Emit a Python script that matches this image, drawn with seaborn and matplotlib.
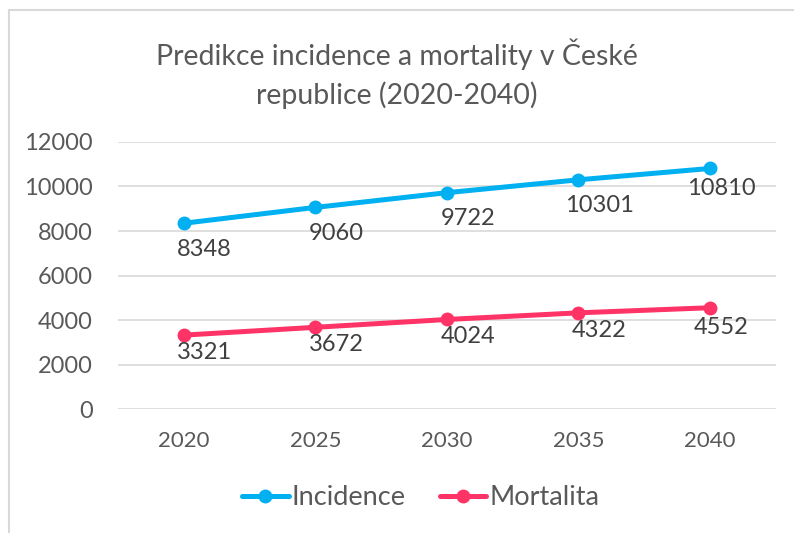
import pandas as pd
import matplotlib.pyplot as plt
import seaborn as sns
from matplotlib.lines import Line2D

# data
years = ["2020", "2025", "2030", "2035", "2040"]
incidence = [8348, 9060, 9722, 10301, 10810]
mortalita = [3321, 3672, 4024, 4322, 4552]

df = pd.DataFrame({"Rok": years, "Incidence": incidence, "Mortalita": mortalita})
df = df.melt(id_vars="Rok", var_name="serie", value_name="pocet")

sns.set_style("white")
plt.rcParams["font.family"] = ["Lato", "DejaVu Sans"]
text_col = "#595959"
grid_col = "#D9D9D9"
colors = {"Incidence": "#00B0F0", "Mortalita": "#FF3366"}

fig = plt.figure(figsize=(7.94, 5.33), dpi=100)
ax = fig.add_axes([0.1486, 0.2326, 0.8284, 0.501])

sns.lineplot(data=df, x="Rok", y="pocet", hue="serie", palette=colors,
             marker="o", markersize=10, markeredgewidth=0, linewidth=3.6,
             legend=False, ax=ax, sort=False)

ax.set_ylim(0, 12000)
ax.set_xlim(-0.5, 4.5)
ax.set_yticks(range(0, 12001, 2000))
ax.grid(axis="y", color=grid_col, linewidth=1.2)
ax.set_axisbelow(True)
for s in ax.spines.values():
    s.set_visible(False)
ax.tick_params(axis="y", length=0, pad=18, labelsize=17, labelcolor=text_col)
ax.tick_params(axis="x", length=0, pad=16, labelsize=16, labelcolor=text_col)
ax.set_xlabel("")
ax.set_ylabel("")

# data labels below the points
dy = {"Incidence": -11, "Mortalita": -5}
for serie in ["Incidence", "Mortalita"]:
    vals = df[df["serie"] == serie]["pocet"].tolist()
    for i, v in enumerate(vals):
        last = i == len(vals) - 1
        dx = 8 if last else 15
        oy = -7 if last else dy[serie]
        ax.annotate(str(v), (i, v), xytext=(dx, oy), textcoords="offset points",
                    ha="center", va="top", fontsize=17, color="#404040")

fig.suptitle("Predikce incidence a mortality v České\nrepublice (2020-2040)",
             y=0.928, fontsize=20.5, color=text_col, linespacing=1.5)

handles = [Line2D([], [], color=colors[k], marker="o", markersize=10,
                  linewidth=3.6, markeredgewidth=0) for k in colors]
fig.legend(handles, list(colors), loc="center", bbox_to_anchor=(0.53, 0.066),
           ncol=2, frameon=False, fontsize=19.5, labelcolor=text_col,
           handlelength=1.7, handletextpad=0.1, columnspacing=1.3)

# chart border (Excel-like)
fig.add_artist(Line2D([0.011, 1.0], [0.981, 0.981], color=grid_col, linewidth=1.5))
fig.add_artist(Line2D([0.011, 0.011], [0.0, 0.981], color=grid_col, linewidth=1.5))

plt.savefig("out.png", dpi=100)
